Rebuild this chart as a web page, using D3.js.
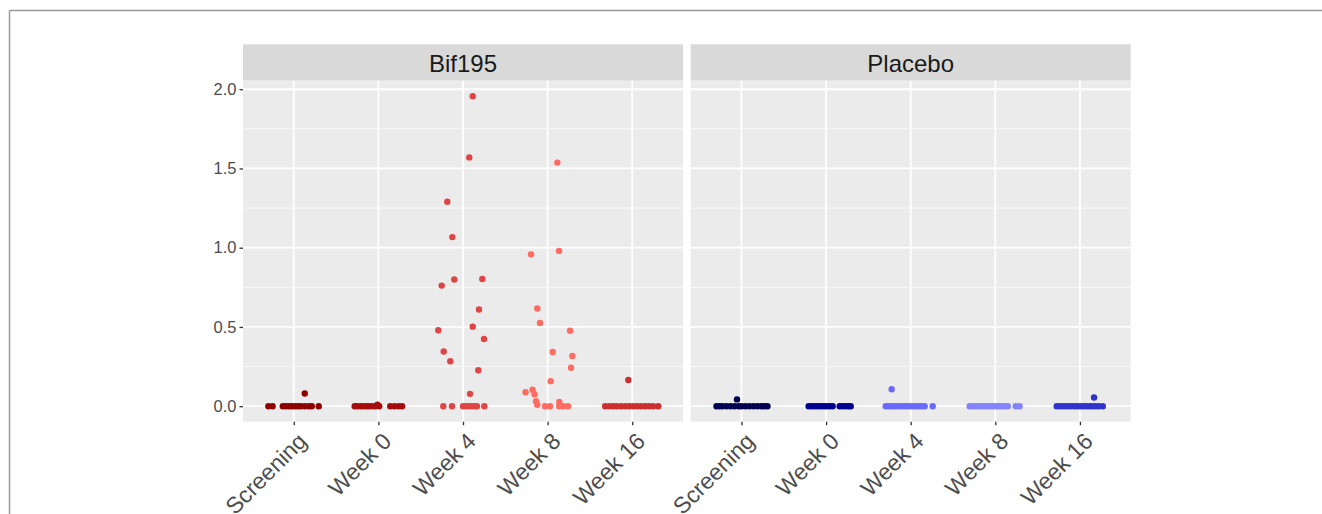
<!DOCTYPE html>
<html>
<head>
<meta charset="utf-8">
<script src="https://cdn.jsdelivr.net/npm/d3@7"></script>
<style>
  html, body { margin: 0; padding: 0; background: #ffffff; }
  svg { display: block; font-family: "Liberation Sans", Arial, sans-serif; }
</style>
</head>
<body>
<svg id="chart" width="1322" height="514"></svg>
<script>
// Study arms (facets) and visit timepoints (x categories)
const arms = ["Bif195", "Placebo"];
const timepoints = ["Screening", "Week 0", "Week 4", "Week 8", "Week 16"];
const yTicks = [0, 0.5, 1.0, 1.5, 2.0];

// Point colours, one per arm x timepoint
const bifColors = ["#8e0000", "#a50d0d", "#e04545", "#ff6b60", "#cc2f2f"];
const placeboColors = ["#000050", "#000090", "#6a6aff", "#8383ff", "#3232cc"];

// Each observation: [horizontal jitter in category units, value]
const bifScreening = [[-0.30,0],[-0.25,0],[-0.13,0],[-0.095,0],[-0.06,0],[-0.024,0],[0.012,0],[0.047,0],[0.083,0],[0.13,0],[0.177,0],[0.213,0],[0.295,0],[0.13,0.08]];
const bifWeek0 = [[-0.28,0],[-0.25,0],[-0.21,0],[-0.18,0],[-0.14,0],[-0.11,0],[-0.07,0],[-0.035,0],[-0.01,0.01],[0.01,0],[0.14,0],[0.19,0],[0.24,0],[0.28,0]];
const bifWeek4 = [[0.115,1.956],[0.074,1.57],[-0.186,1.29],[-0.126,1.067],[-0.252,0.761],[-0.103,0.799],[0.228,0.803],[0.189,0.61],[-0.292,0.479],[0.115,0.502],[0.248,0.424],[-0.228,0.345],[-0.150,0.284],[0.181,0.227],[0.083,0.078],
  [-0.233,0],[-0.13,0],[0,0],[0.035,0],[0.071,0],[0.106,0],[0.142,0],[0.165,0],[0.252,0]];
const bifWeek8 = [[0.115,1.537],[-0.196,0.958],[0.135,0.98],[-0.122,0.616],[-0.09,0.525],[0.265,0.476],[0.06,0.342],[0.292,0.317],[0.277,0.243],[0.037,0.158],[-0.261,0.088],[-0.178,0.104],[-0.155,0.076],[-0.137,0.032],[-0.122,0.009],[0.138,0.027],
  [-0.031,0],[0.028,0],[0.138,0],[0.186,0],[0.241,0]];
const bifWeek16 = [[-0.32,0],[-0.27,0],[-0.225,0],[-0.18,0],[-0.13,0],[-0.083,0],[-0.035,0],[0.012,0],[0.059,0],[0.106,0],[0.154,0],[0.2,0],[0.248,0],[0.307,0],[-0.046,0.165]];

const placeboScreening = [[-0.295,0],[-0.26,0],[-0.225,0],[-0.177,0],[-0.13,0],[-0.083,0],[-0.035,0],[0,0],[0.047,0],[0.095,0],[0.142,0],[0.19,0],[0.236,0],[0.272,0],[0.307,0],[-0.053,0.043]];
const placeboWeek0 = [[-0.206,0],[-0.17,0],[-0.135,0],[-0.1,0],[-0.064,0],[-0.028,0],[0.007,0],[0.043,0],[0.078,0],[0.161,0],[0.196,0],[0.232,0],[0.267,0],[0.291,0]];
const placeboWeek4 = [[-0.295,0],[-0.26,0],[-0.225,0],[-0.19,0],[-0.154,0],[-0.118,0],[-0.083,0],[-0.047,0],[-0.012,0],[0.024,0],[0.059,0],[0.095,0],[0.13,0],[0.165,0],[0.26,0],[-0.225,0.107]];
const placeboWeek8 = [[-0.303,0],[-0.267,0],[-0.232,0],[-0.196,0],[-0.161,0],[-0.125,0],[-0.09,0],[-0.054,0],[-0.019,0],[0.017,0],[0.052,0],[0.087,0],[0.123,0],[0.147,0],[0.241,0],[0.288,0]];
const placeboWeek16 = [[-0.274,0],[-0.239,0],[-0.203,0],[-0.168,0],[-0.132,0],[-0.097,0],[-0.061,0],[-0.026,0],[0.009,0],[0.045,0],[0.08,0],[0.116,0],[0.151,0],[0.187,0],[0.222,0],[0.27,0],[0.167,0.055]];

const armData = {
  "Bif195": [bifScreening, bifWeek0, bifWeek4, bifWeek8, bifWeek16],
  "Placebo": [placeboScreening, placeboWeek0, placeboWeek4, placeboWeek8, placeboWeek16]
};
const armColors = { "Bif195": bifColors, "Placebo": placeboColors };

// Layout
const svg = d3.select("#chart");
const panelTop = 80.7, panelBottom = 421.7;
const stripTop = 44.3;
const panelLefts = [243, 690.7];
const panelWidth = 440;

// Outer frame (top and left rules)
svg.append("line").attr("x1", 9.5).attr("x2", 1322).attr("y1", 10.5).attr("y2", 10.5)
  .attr("stroke", "#9a9a9a").attr("stroke-width", 1.5);
svg.append("line").attr("x1", 9.5).attr("x2", 9.5).attr("y1", 10.5).attr("y2", 514)
  .attr("stroke", "#9a9a9a").attr("stroke-width", 1.5);

// Shared y scale (5% expansion on both ends)
const yMax = 1.956;
const yPad = yMax * 0.05;
const y = d3.scaleLinear().domain([-yPad, yMax + yPad]).range([panelBottom, panelTop]);
const yMinor = [0.25, 0.75, 1.25, 1.75];

arms.forEach((arm, ai) => {
  const left = panelLefts[ai];
  const x = d3.scalePoint().domain(timepoints).range([left, left + panelWidth]).padding(0.6);
  const step = x.step();
  const g = svg.append("g");

  // strip
  g.append("rect").attr("x", left).attr("y", stripTop).attr("width", panelWidth)
    .attr("height", panelTop - stripTop).attr("fill", "#d9d9d9");
  g.append("text").attr("x", left + panelWidth / 2).attr("y", (stripTop + panelTop) / 2 + 1)
    .attr("text-anchor", "middle").attr("dominant-baseline", "central")
    .attr("font-size", 24).attr("fill", "#1a1a1a").text(arm);

  // panel background
  g.append("rect").attr("x", left).attr("y", panelTop).attr("width", panelWidth)
    .attr("height", panelBottom - panelTop).attr("fill", "#ebebeb");

  // minor grid
  g.selectAll(".ymin").data(yMinor).join("line")
    .attr("x1", left).attr("x2", left + panelWidth)
    .attr("y1", d => y(d)).attr("y2", d => y(d))
    .attr("stroke", "#ffffff").attr("stroke-width", 0.9).attr("stroke-opacity", 0.75);
  // major grid
  g.selectAll(".ymaj").data(yTicks).join("line")
    .attr("x1", left).attr("x2", left + panelWidth)
    .attr("y1", d => y(d)).attr("y2", d => y(d))
    .attr("stroke", "#ffffff").attr("stroke-width", 1.8);
  g.selectAll(".xmaj").data(timepoints).join("line")
    .attr("x1", d => x(d)).attr("x2", d => x(d))
    .attr("y1", panelTop).attr("y2", panelBottom)
    .attr("stroke", "#ffffff").attr("stroke-width", 1.8);

  // points
  timepoints.forEach((tp, ti) => {
    g.append("g").selectAll("circle").data(armData[arm][ti]).join("circle")
      .attr("cx", d => x(tp) + d[0] * step)
      .attr("cy", d => y(d[1]))
      .attr("r", 3.2)
      .attr("fill", armColors[arm][ti]);
  });

  // x axis
  const xAxis = d3.axisBottom(x).tickSize(3.5).tickPadding(4);
  const ax = g.append("g").attr("transform", `translate(0,${panelBottom})`).call(xAxis);
  ax.select(".domain").remove();
  ax.selectAll(".tick line").attr("stroke", "#333333").attr("stroke-width", 1.3);
  ax.selectAll(".tick text")
    .attr("font-size", 23).attr("fill", "#4d4d4d")
    .attr("font-family", "Liberation Sans, Arial, sans-serif")
    .attr("text-anchor", "end")
    .attr("dy", null)
    .attr("y", 0)
    .attr("dominant-baseline", "hanging")
    .attr("transform", "translate(2,9) rotate(-45)");

  // y axis only on the first panel
  if (ai === 0) {
    const yAxis = d3.axisLeft(y).tickValues(yTicks).tickFormat(d3.format(".1f")).tickSize(3.5).tickPadding(3);
    const ay = g.append("g").attr("transform", `translate(${left},0)`).call(yAxis);
    ay.select(".domain").remove();
    ay.selectAll(".tick line").attr("stroke", "#333333").attr("stroke-width", 1.3);
    ay.selectAll(".tick text").attr("font-size", 16.5).attr("fill", "#4d4d4d")
      .attr("font-family", "Liberation Sans, Arial, sans-serif");
  }
});
</script>
</body>
</html>
